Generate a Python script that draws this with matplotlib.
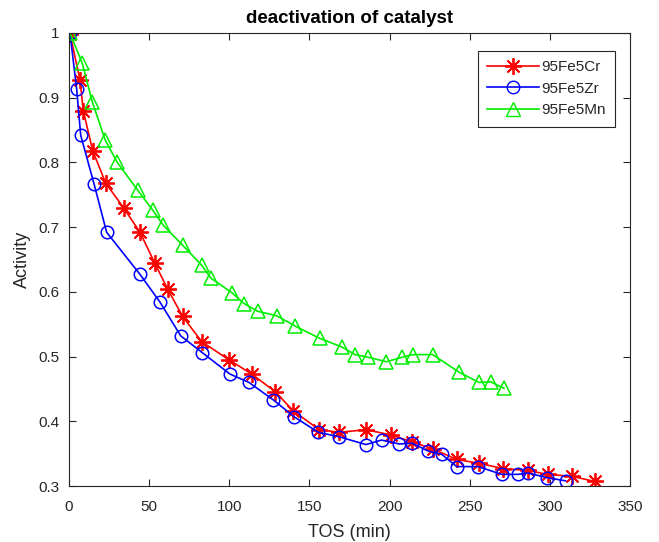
import matplotlib
matplotlib.use("Agg")
import matplotlib.pyplot as plt
from matplotlib.lines import Line2D

plt.rcParams['font.family'] = ['Liberation Sans', 'DejaVu Sans']

cr_x = [0.6, 6.9, 8.9, 14.8, 22.9, 34.3, 44.3, 53.6, 61.6, 70.9, 82.8, 99.8, 114, 128.5,
        140, 156.1, 168.6, 185.3, 200.7, 214.2, 227.3, 241.9, 256, 270.6, 286.2, 298.6, 313.8, 328.1]
cr_y = [0.999, 0.927, 0.880, 0.818, 0.768, 0.729, 0.692, 0.644, 0.604, 0.562, 0.523, 0.495, 0.473, 0.446,
        0.416, 0.387, 0.383, 0.387, 0.379, 0.368, 0.357, 0.341, 0.335, 0.327, 0.324, 0.318, 0.315, 0.307]

zr_x = [0.6, 4.8, 7.3, 15.6, 23.5, 44.3, 56.8, 69.7, 83.2, 100.4, 112.3, 127.5,
        140.4, 155.5, 168.6, 185.3, 195, 206, 214.2, 224.1, 232.5, 241.9, 255.3, 269.9, 280.3, 286.5, 298, 309.8]
zr_y = [1.0, 0.913, 0.842, 0.767, 0.692, 0.627, 0.584, 0.532, 0.506, 0.473, 0.460, 0.433,
        0.407, 0.383, 0.376, 0.364, 0.371, 0.365, 0.366, 0.354, 0.349, 0.330, 0.330, 0.318, 0.318, 0.320, 0.313, 0.308]

mn_x = [0.6, 8.3, 14.5, 22.5, 30.1, 42.9, 52.3, 58.8, 70.9, 82.8, 88.6, 101.5, 109.2, 117.7, 129.6,
        141.2, 156.6, 170.1, 178.6, 186.7, 198, 207.9, 214.4, 226.9, 243.3, 255.8, 263.1, 271.4]
mn_y = [1.0, 0.953, 0.894, 0.835, 0.800, 0.757, 0.726, 0.703, 0.672, 0.641, 0.621, 0.599, 0.582, 0.570, 0.563,
        0.547, 0.528, 0.515, 0.503, 0.499, 0.492, 0.499, 0.503, 0.503, 0.476, 0.460, 0.461, 0.451]

x_ticks = [0, 50, 100, 150, 200, 250, 300, 350]
y_ticks = [0.3, 0.4, 0.5, 0.6, 0.7, 0.8, 0.9, 1.0]
y_tick_labels = ['0.3', '0.4', '0.5', '0.6', '0.7', '0.8', '0.9', '1']

RED = '#ff0000'
BLUE = '#0000ff'
GREEN = '#00ee00'
STAR = (8, 2, 0)
TXT = '#262626'

fig = plt.figure(figsize=(6.59, 5.42), dpi=100)
ax = fig.add_axes([69/659, 1-486/542, (630-69)/659, (486-33)/542])

ax.plot(cr_x, cr_y, color=RED, marker=STAR, markersize=12,
        markeredgewidth=1.3, linewidth=1.2)
ax.plot(zr_x, zr_y, color=BLUE, marker='o', markersize=9, markerfacecolor='none',
        markeredgewidth=1.1, linewidth=1.2)
ax.plot(mn_x, mn_y, color=GREEN, marker='^', markersize=10, markerfacecolor='none',
        markeredgewidth=1.1, linewidth=1.2)

ax.set_xlim(0, 350)
ax.set_ylim(0.3, 1.0)
ax.set_xticks(x_ticks)
ax.set_yticks(y_ticks)
ax.set_yticklabels(y_tick_labels)
ax.tick_params(axis='both', direction='in', top=True, right=True, labelsize=11, length=5,
               color=TXT, labelcolor=TXT, width=0.8)
ax.tick_params(axis='x', pad=10)
ax.tick_params(axis='y', pad=7)
for s in ax.spines.values():
    s.set_color(TXT)
    s.set_linewidth(0.8)

ax.set_xlabel('TOS (min)', fontsize=13, color=TXT, labelpad=7)
ax.set_ylabel('Activity', fontsize=13, color=TXT)
ax.yaxis.set_label_coords(-0.068, 0.5)
ax.set_title('deactivation of catalyst', fontsize=13.5, fontweight='bold', pad=7)

handles = [Line2D([], [], color=RED, marker=STAR, markersize=12, markeredgewidth=1.3, linewidth=1.2),
           Line2D([], [], color=BLUE, marker='o', markersize=9, markerfacecolor='none', linewidth=1.2),
           Line2D([], [], color=GREEN, marker='^', markersize=10, markerfacecolor='none', linewidth=1.2)]
leg = ax.legend(handles, ['95Fe5Cr', '95Fe5Zr', '95Fe5Mn'], loc='upper right',
                bbox_to_anchor=(1 - 15/561, 1 - 18/453), borderaxespad=0, fontsize=11,
                fancybox=False, framealpha=1, edgecolor=TXT, handlelength=3.4,
                handletextpad=0.15, borderpad=0.6, labelspacing=0.5)
leg.get_frame().set_linewidth(0.8)
for t in leg.get_texts():
    t.set_color(TXT)

fig.savefig('out.png', dpi=100)
